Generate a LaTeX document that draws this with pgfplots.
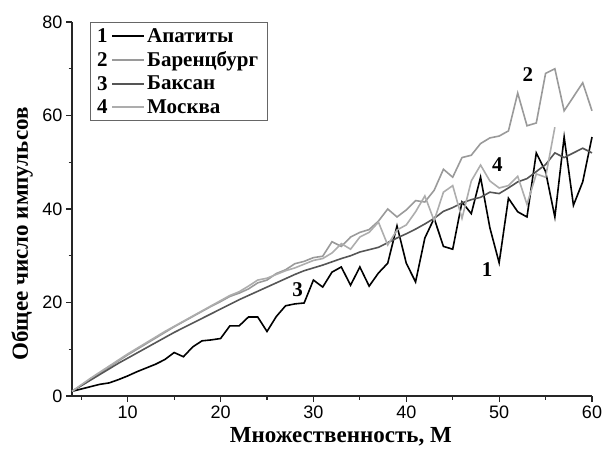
\documentclass[border=0pt]{standalone}
\usepackage{fontspec}
\setmainfont{Liberation Serif}
\setsansfont{Liberation Sans}
\usepackage{pgfplots}
\pgfplotsset{compat=1.18}
\usepackage{pgfplotstable}
\pgfplotstableread{
M V
4 1.0
5 1.5
6 2.0
7 2.5
8 2.8
9 3.5
10 4.3
11 5.2
12 6.0
13 6.8
14 7.8
15 9.3
16 8.4
17 10.5
18 11.8
19 12.0
20 12.3
21 15.0
22 15.0
23 16.9
24 16.9
25 13.8
26 17.0
27 19.3
28 19.7
29 19.9
30 24.8
31 23.3
32 26.5
33 27.6
34 23.7
35 27.6
36 23.5
37 26.3
38 28.4
39 36.4
40 28.4
41 24.4
42 33.8
43 38.0
44 32.0
45 31.4
46 41.5
47 39.0
48 46.8
49 36.0
50 28.5
51 42.3
52 39.4
53 38.3
54 52.0
55 48.0
56 38.3
57 55.4
58 40.8
59 45.8
60 55.4
}\apatity
\pgfplotstableread{
M V
4 1.0
5 2.3
6 3.6
7 4.9
8 6.2
9 7.5
10 8.8
11 10.0
12 11.2
13 12.4
14 13.6
15 14.8
16 15.9
17 17.0
18 18.1
19 19.2
20 20.2
21 21.3
22 22.0
23 22.9
24 24.2
25 24.8
26 26.2
27 27.0
28 28.3
29 28.8
30 29.6
31 29.9
32 33.0
33 32.0
34 34.0
35 35.0
36 35.6
37 37.4
38 40.0
39 38.3
40 39.8
41 41.8
42 41.5
43 44.0
44 48.5
45 46.8
46 51.0
47 51.5
48 54.0
49 55.2
50 55.6
51 56.7
52 64.8
53 57.8
54 58.4
55 69.0
56 70.0
57 61.0
58 64.0
59 67.0
60 61.0
}\barents
\pgfplotstableread{
M V
4 1.0
5 2.2
6 3.4
7 4.6
8 5.8
9 7.0
10 8.1
11 9.2
12 10.3
13 11.4
14 12.5
15 13.6
16 14.6
17 15.6
18 16.6
19 17.6
20 18.6
21 19.6
22 20.6
23 21.5
24 22.4
25 23.3
26 24.2
27 25.1
28 26.0
29 26.8
30 27.4
31 28.0
32 28.7
33 29.4
34 30.0
35 30.8
36 31.3
37 31.8
38 32.8
39 33.8
40 34.7
41 35.7
42 36.8
43 38.0
44 39.5
45 40.3
46 41.3
47 42.0
48 42.5
49 43.6
50 43.3
51 44.5
52 45.8
53 46.5
54 48.0
55 49.5
56 52.0
57 51.0
58 52.0
59 53.0
60 52.0
}\baksan
\pgfplotstableread{
M V
4 1.0
5 2.4
6 3.8
7 5.1
8 6.4
9 7.7
10 9.0
11 10.2
12 11.4
13 12.6
14 13.8
15 14.9
16 16.0
17 17.1
18 18.2
19 19.3
20 20.4
21 21.5
22 22.3
23 23.5
24 24.8
25 25.2
26 26.0
27 26.8
28 27.4
29 28.2
30 29.0
31 29.4
32 30.6
33 32.6
34 31.4
35 34.0
36 35.0
37 37.2
38 32.3
39 35.5
40 36.6
41 39.4
42 42.8
43 37.5
44 43.6
45 45.0
46 38.0
47 46.0
48 49.4
49 46.0
50 44.5
51 45.0
52 47.0
53 41.0
54 47.5
55 46.8
56 57.5
}\moskva
\definecolor{cBar}{HTML}{9A9A9A}
\definecolor{cBak}{HTML}{555555}
\definecolor{cMos}{HTML}{ADADAD}
\newcommand{\legfont}{\bfseries\fontsize{21}{21}\selectfont}
\pgfplotsset{
  legA/.style={legend image code/.code={\draw[black, line width=1.6pt] (0pt,0pt) -- (32pt,0pt);
    \node[anchor=east, inner sep=0pt, text=black, font=\legfont] at (-4pt,0pt) {1};}},
  legB/.style={legend image code/.code={\draw[cBar, line width=1.6pt] (0pt,0pt) -- (32pt,0pt);
    \node[anchor=east, inner sep=0pt, text=black, font=\legfont] at (-4pt,0pt) {2};}},
  legC/.style={legend image code/.code={\draw[cBak, line width=1.6pt] (0pt,0pt) -- (32pt,0pt);
    \node[anchor=east, inner sep=0pt, text=black, font=\legfont] at (-4pt,0pt) {3};}},
  legD/.style={legend image code/.code={\draw[cMos, line width=1.6pt] (0pt,0pt) -- (32pt,0pt);
    \node[anchor=east, inner sep=0pt, text=black, font=\legfont] at (-4pt,0pt) {4};}},
}
\begin{document}
\begin{tikzpicture}
\begin{axis}[
  scale only axis, width=520pt, height=374pt,
  xmin=4, xmax=60, ymin=0, ymax=80,
  axis lines=left,
  axis line style={-, line width=1.2pt, color=black!85},
  xtick={10,20,...,60}, minor xtick={5,15,...,55},
  ytick={0,20,...,80}, minor ytick={10,30,50,70},
  tick align=outside, major tick length=6pt, minor tick length=3.5pt,
  every tick/.style={line width=1.2pt, black!85},
  ticklabel style={font=\sffamily\fontsize{18}{18}\selectfont},
  /pgf/number format/assume math mode=true,
  xlabel={Множественность, М},
  ylabel={Общее число импульсов},
  label style={font=\bfseries\fontsize{23}{23}\selectfont},
  xlabel style={at={(axis description cs:0.517,-0.11)}, anchor=center},
  ylabel style={at={(axis description cs:-0.096,0.433)}, anchor=center},
  legend style={at={(axis description cs:0.034,1)}, anchor=north west,
    draw=black!60, line width=0.7pt, font=\legfont, row sep=4pt,
    inner xsep=7pt, inner ysep=4pt},
  legend cell align=left,
  clip=false,
]
\addplot[black, line width=1.6pt, legA] table[x=M, y=V] {\apatity};
\addlegendentry{Апатиты}
\addplot[cBar, line width=1.6pt, legB] table[x=M, y=V] {\barents};
\addlegendentry{Баренцбург}
\addplot[cBak, line width=1.6pt, legC] table[x=M, y=V] {\baksan};
\addlegendentry{Баксан}
\addplot[cMos, line width=1.6pt, legD] table[x=M, y=V] {\moskva};
\addlegendentry{Москва}
\node[font=\legfont] at (axis cs:48.7,27) {1};
\node[font=\legfont] at (axis cs:53.1,68.7) {2};
\node[font=\legfont] at (axis cs:28.3,22.7) {3};
\node[font=\legfont] at (axis cs:49.8,49.4) {4};
\coordinate (SW) at (rel axis cs:0,0);
\coordinate (NE) at (rel axis cs:1,1);
\end{axis}
\pgfresetboundingbox
\path[use as bounding box] ([shift={(-72pt,-62pt)}]SW) rectangle ([shift={(14pt,22pt)}]NE);
\end{tikzpicture}
\end{document}
